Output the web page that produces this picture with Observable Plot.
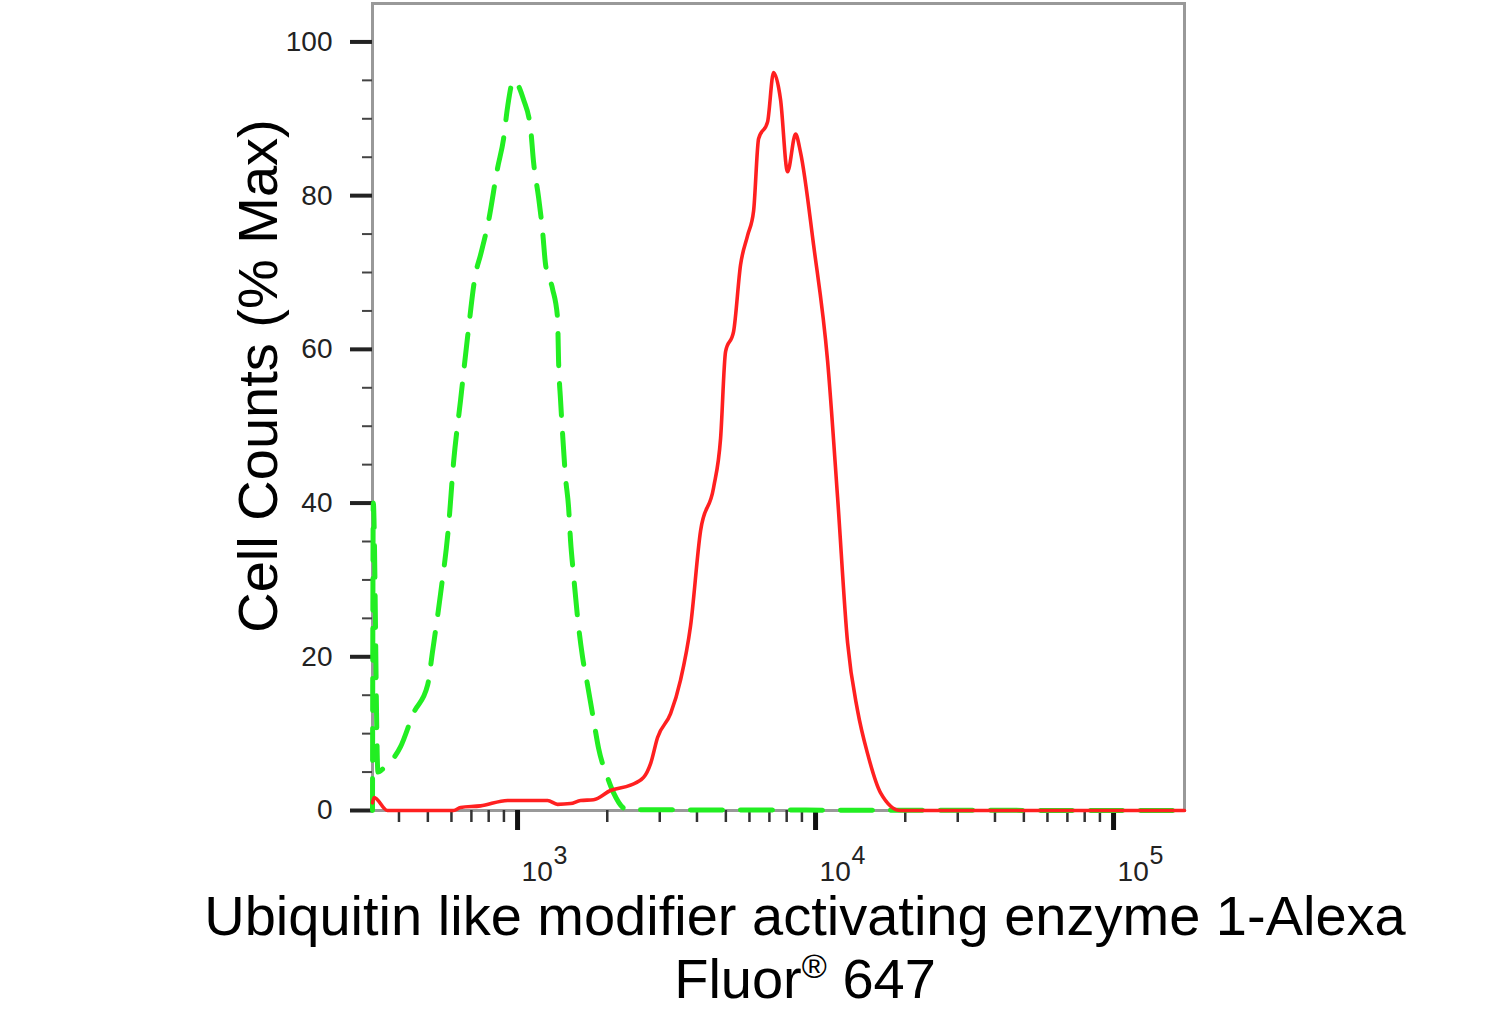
<!DOCTYPE html>
<html>
<head>
<meta charset="utf-8">
<script src="https://cdn.jsdelivr.net/npm/d3@7"></script>
<script src="https://cdn.jsdelivr.net/npm/@observablehq/plot@0.6"></script>
<style>
  html, body { margin: 0; padding: 0; background: #fff; }
  #chart { width: 1490px; height: 900px; }
  #xlabel {
    width: 1370px; margin-left: 120px; margin-top: -16px; text-align: center;
    font-family: "Liberation Sans", Arial, Helvetica, sans-serif;
    font-size: 56px; line-height: 63px; color: #000; position: relative;
  }
  #xlabel sup { font-size: 34px; vertical-align: 0; position: relative; top: -20px; }
</style>
</head>
<body>
<div id="chart"></div>
<div id="xlabel">Ubiquitin like modifier activating enzyme 1-Alexa<br>Fluor<sup>®</sup> 647</div>
<script>
// Isotype control (green dashed)
const greenX = [326, 328, 340, 355, 405, 448, 499, 518.5, 551.6, 586.8, 609.9, 643.8, 679.6, 722.8, 751.3, 799, 857, 897.5, 925.5, 969.6, 1047, 1106, 1132, 1176, 1213, 1242, 1310, 1362, 1373, 1394, 1416, 1449, 1483, 1506, 1541, 1590, 1652, 1718, 1799, 1870, 2004, 2100, 2339, 173000];
const greenY = [0, 40, 5, 5.5, 8.3, 12.7, 16.3, 20.7, 28.2, 37, 45.3, 53.4, 61.6, 69.8, 72.3, 76.7, 83.6, 87.4, 91.5, 95, 92.5, 88.7, 84.3, 79.8, 75.4, 71, 67.9, 64.1, 58.4, 53.4, 49, 43.3, 39.5, 35.1, 30.7, 25.1, 20, 16.3, 11.8, 8.1, 4.3, 2.3, 0.1, 0];
// Sample (red solid)
const redX = [326, 330, 366, 610, 644, 751, 926, 1261, 1362, 1506, 1627, 1799, 2051, 2394, 2648, 2795, 2950, 3262, 3524, 3806, 4113, 4547, 4800, 4989, 5307, 5602, 5913, 6195, 6439, 6902, 7228, 7629, 8054, 8568, 8906, 9847, 10973, 11852, 12809, 13836, 14946, 16526, 19287, 173000];
const redY = [1.0, 1.7, 0, 0, 0.4, 0.6, 1.3, 1.3, 0.8, 0.9, 1.3, 1.4, 2.6, 3.3, 4.3, 6.1, 9.5, 12.6, 17, 24, 36.4, 42, 48.4, 59.7, 62.3, 71, 74.8, 78, 87.4, 89.6, 96, 92.5, 83.1, 88, 85.6, 73.6, 58.5, 40.8, 21.8, 13, 7.4, 2.3, 0, 0];

const yMajorTicks = [0, 20, 40, 60, 80, 100];
const yMinorTicks = [5, 10, 15, 25, 30, 35, 45, 50, 55, 65, 70, 75, 85, 90, 95];
const xMajorTicks = [1e3, 1e4, 1e5];
const xMajorBase = ["10", "10", "10"];
const xMajorExp = ["3", "4", "5"];
const xMinorTicks = [400, 500, 600, 700, 800, 900, 2000, 3000, 4000, 5000, 6000, 7000, 8000, 9000, 20000, 30000, 40000, 50000, 60000, 70000, 80000, 90000];
const yLabel = "Cell Counts (% Max)";

const green = greenX.map((x, i) => ({x, y: greenY[i]}));
const red = redX.map((x, i) => ({x, y: redY[i]}));
const majors = xMajorTicks.map((v, i) => ({v, base: xMajorBase[i], exp: xMajorExp[i]}));

const tickFont = '"Liberation Sans", Arial, Helvetica, sans-serif';
const labelFont = '"Liberation Sans", Arial, Helvetica, sans-serif';

const chart = Plot.plot({
  width: 1490,
  height: 900,
  marginLeft: 372,
  marginRight: 306,
  marginTop: 3,
  marginBottom: 90,
  x: {type: "log", domain: [326, 173000]},
  y: {domain: [0, 105]},
  style: {background: "#fff", fontFamily: tickFont, color: "#222"},
  marks: [
    Plot.frame({stroke: "#999", strokeWidth: 3}),
    Plot.axisY({ticks: yMinorTicks, tickSize: 10, strokeWidth: 2, stroke: "#444", tickFormat: () => "", label: null}),
    Plot.axisY({ticks: yMajorTicks, tickSize: 22, tickPadding: 18, strokeWidth: 4, stroke: "#222", fill: "#222", fontSize: 28, fontFamily: tickFont, label: null}),
    Plot.axisX({ticks: xMinorTicks, tickSize: 12, strokeWidth: 2.5, stroke: "#333", tickFormat: () => "", label: null}),
    Plot.axisX({ticks: xMajorTicks, tickSize: 20, strokeWidth: 5, stroke: "#111", tickFormat: () => "", label: null}),
    Plot.text(majors, {x: "v", frameAnchor: "bottom", text: "base", textAnchor: "start", lineAnchor: "bottom", dx: 4, dy: 70, fontSize: 28, fill: "#222", fontFamily: tickFont}),
    Plot.text(majors, {x: "v", frameAnchor: "bottom", text: "exp", textAnchor: "start", lineAnchor: "bottom", dx: 36, dy: 53, fontSize: 25, fill: "#222", fontFamily: tickFont}),
    Plot.text([yLabel], {text: d => d, frameAnchor: "left", rotate: -90, dx: -113, dy: -31, fontSize: 56, fill: "#000", fontFamily: labelFont, textAnchor: "middle", lineAnchor: "middle"}),
    Plot.line(green, {x: "x", y: "y", stroke: "#22ee22", strokeWidth: 5, strokeDasharray: "32,18", curve: "monotone-x"}),
    Plot.line(red, {x: "x", y: "y", stroke: "#ff2020", strokeWidth: 3.6, curve: "monotone-x"})
  ]
});
document.getElementById("chart").appendChild(chart);
</script>
</body>
</html>
